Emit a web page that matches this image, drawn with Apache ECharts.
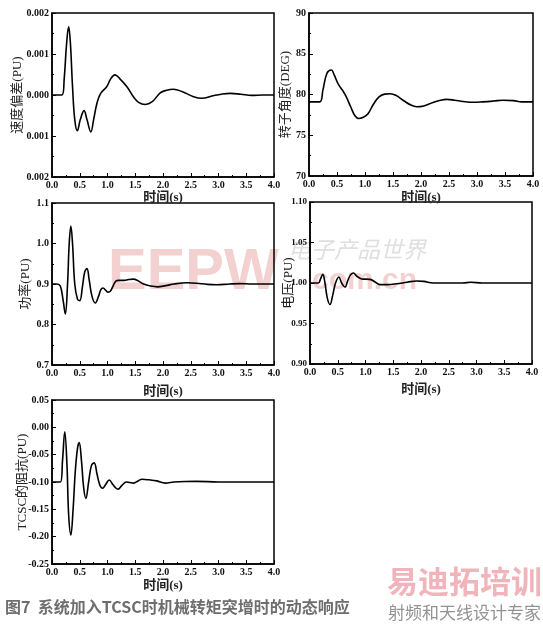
<!DOCTYPE html>
<html><head><meta charset="utf-8">
<script src="https://cdn.jsdelivr.net/npm/echarts@6/dist/echarts.min.js"></script>
<style>html,body{margin:0;padding:0;background:#fff}#c{width:543px;height:628px}</style>
</head><body><div id="c"></div>
<script>
// ---- data ----
const speedT = [0,0.18,0.22,0.26,0.30,0.33,0.37,0.41,0.456,0.51,0.577,0.63,0.70,0.75,0.81,0.877,0.985,1.06,1.135,1.22,1.35,1.47,1.56,1.68,1.8,1.95,2.05,2.19,2.35,2.55,2.70,2.9,3.05,3.21,3.4,3.6,3.8,4.0];
const speedV = [0,0,0.0004,0.0012,0.00167,0.0013,0.0002,-0.0006,-0.00087,-0.0006,-0.00038,-0.0006,-0.0009,-0.0006,-0.0002,0.00004,0.0002,0.0004,0.00049,0.0004,0.0002,-0.00005,-0.00018,-0.00023,-0.00017,0.00005,0.00011,0.00014,0.00008,-0.00004,-0.00008,-0.00002,0.00002,0.00004,0.00002,-0.00001,0,0];

const rotorT = [0,0.19,0.25,0.32,0.40,0.45,0.52,0.6,0.66,0.75,0.82,0.89,0.97,1.05,1.15,1.25,1.35,1.45,1.55,1.7,1.82,1.92,2.05,2.2,2.35,2.46,2.6,2.75,2.93,3.1,3.3,3.46,3.65,3.8,4.0];
const rotorV = [79.1,79.1,80.6,82.6,83.0,82.4,81.3,80.5,79.8,78.4,77.4,77.06,77.2,77.6,78.8,79.7,80.05,80.1,79.9,79.2,78.7,78.5,78.6,79.0,79.3,79.4,79.3,79.15,79.05,79.1,79.2,79.3,79.25,79.1,79.1];

const powerT = [0,0.09,0.15,0.2,0.24,0.28,0.31,0.34,0.37,0.41,0.46,0.50,0.55,0.59,0.63,0.67,0.72,0.78,0.84,0.88,0.92,0.97,1.01,1.05,1.1,1.15,1.2,1.3,1.38,1.47,1.55,1.65,1.78,1.9,2.05,2.2,2.43,2.6,2.8,2.97,3.2,3.39,3.6,3.8,4.0];
const powerV = [0.9,0.9,0.895,0.86,0.826,0.9,1.0,1.043,1.0,0.9,0.862,0.859,0.895,0.93,0.938,0.91,0.87,0.853,0.87,0.886,0.89,0.884,0.88,0.882,0.895,0.907,0.909,0.909,0.911,0.912,0.908,0.9,0.895,0.893,0.896,0.9,0.903,0.902,0.899,0.898,0.9,0.901,0.9,0.9,0.9];

const voltT = [0,0.15,0.19,0.23,0.27,0.31,0.36,0.41,0.46,0.52,0.57,0.63,0.68,0.73,0.78,0.85,0.93,1.08,1.18,1.26,1.4,1.56,1.75,1.92,2.05,2.22,2.5,2.75,2.9,3.1,3.5,4.0];
const voltV = [1.0,1.0,1.005,1.0107,1.0,0.982,0.9734,0.985,1.0,1.0075,1.0,0.995,1.003,1.01,1.0124,1.008,1.005,1.0045,1.001,0.998,0.998,0.999,1.001,1.0025,1.002,1.0,1.0,1.0,1.001,1.0,1.0,1.0];

const tcscT = [0,0.15,0.19,0.23,0.27,0.30,0.34,0.38,0.42,0.46,0.49,0.53,0.57,0.61,0.66,0.71,0.76,0.81,0.86,0.91,0.97,1.03,1.1,1.15,1.19,1.26,1.34,1.40,1.47,1.55,1.62,1.75,1.89,2.04,2.2,2.4,2.6,3.0,3.5,4.0];
const tcscV = [-0.1,-0.1,-0.06,-0.008,-0.07,-0.16,-0.197,-0.15,-0.08,-0.038,-0.028,-0.06,-0.11,-0.13,-0.1,-0.07,-0.065,-0.085,-0.105,-0.1115,-0.104,-0.0964,-0.105,-0.111,-0.113,-0.106,-0.1,-0.101,-0.102,-0.098,-0.095,-0.096,-0.098,-0.102,-0.1,-0.099,-0.0988,-0.1,-0.1,-0.1];

const xTicks = ['0.0','0.5','1.0','1.5','2.0','2.5','3.0','3.5','4.0'];
const yNames = ['速度偏差(PU)','转子角度(DEG)','功率(PU)','电压(PU)','TCSC的阻抗(PU)'];
const xName = '时间(s)';
const caption = '图7  系统加入TCSC时机械转矩突增时的动态响应';

// ---- layout ----
const grids = [
  {left:52, top:13, width:222, height:164},
  {left:309, top:13, width:224, height:163},
  {left:52, top:203, width:222, height:162},
  {left:310, top:202, width:222, height:162},
  {left:52, top:400, width:222, height:164}
];
const yNameGap = [28, 17, 20, 15, 23];
const xNameGap = [14, 15, 20, 19, 15];
const yLabelSize = [10, 10, 10, 9, 10];
const yCfg = [
  {min:-0.002,max:0.002,interval:0.001,fmt:v=>Math.abs(v).toFixed(3)},
  {min:70,max:90,interval:5,fmt:v=>String(Math.round(v))},
  {min:0.7,max:1.1,interval:0.1,fmt:v=>v.toFixed(1)},
  {min:0.9,max:1.1,interval:0.05,fmt:v=>v.toFixed(2)},
  {min:-0.25,max:0.05,interval:0.05,fmt:v=>(Math.abs(v)<1e-9?0:v).toFixed(2)}
];
const serif = 'Liberation Serif, "Times New Roman", serif';
const cjk = 'Liberation Serif, "Noto Sans CJK SC", serif';
const seriesData = [[speedT,speedV],[rotorT,rotorV],[powerT,powerV],[voltT,voltV],[tcscT,tcscV]];

const option = {
  animation:false,
  backgroundColor:'#fff',
  grid: grids.map(g=>Object.assign({show:true,borderColor:'#000',borderWidth:1.5,backgroundColor:'transparent'},g)),
  xAxis: grids.map((g,i)=>({
    type:'value', gridIndex:i, min:0, max:4, interval:0.5,
    name:xName, nameLocation:'middle', nameGap:xNameGap[i], nameMoveOverlap:false,
    nameTextStyle:{fontFamily:cjk,fontSize:13,fontWeight:'bold',color:'#222'},
    axisLine:{onZero:false,lineStyle:{color:'#000',width:1.5}},
    axisTick:{inside:true,length:4,lineStyle:{color:'#000'}},
    minorTick:{show:true,splitNumber:2,length:2,lineStyle:{color:'#000'}},
    splitLine:{show:false},
    axisLabel:{fontFamily:serif,fontWeight:'bold',fontSize:10,color:'#111',margin:3,
      formatter:v=>xTicks[Math.round(v/0.5)]}
  })),
  yAxis: grids.map((g,i)=>({
    type:'value', gridIndex:i, min:yCfg[i].min, max:yCfg[i].max, interval:yCfg[i].interval,
    name:yNames[i], nameLocation:'middle', nameRotate:90, nameGap:yNameGap[i], nameMoveOverlap:false,
    nameTextStyle:{fontFamily:cjk,fontSize:13,color:'#222'},
    axisLine:{onZero:false,lineStyle:{color:'#000',width:1.5}},
    axisTick:{inside:true,length:4,lineStyle:{color:'#000'}},
    minorTick:{show:true,splitNumber:2,length:2,lineStyle:{color:'#000'}},
    splitLine:{show:false},
    axisLabel:{fontFamily:serif,fontWeight:'bold',fontSize:yLabelSize[i],color:'#111',margin:3,
      formatter:yCfg[i].fmt}
  })),
  series: seriesData.map((d,i)=>({
    type:'line', xAxisIndex:i, yAxisIndex:i, showSymbol:false, smooth:0.4,
    lineStyle:{color:'#000',width:1.6},
    data:d[0].map((t,k)=>[t,d[1][k]])
  })),
  graphic:[
    {type:'text',left:5,top:599,z:10,style:{text:caption,font:'bold 16px "Noto Sans CJK SC"',fill:'#6e6e6e'}},
    {type:'text',left:108,top:244,z:-1,silent:true,style:{text:'EEPW',font:'bold 58px "Liberation Sans"',fill:'rgba(225,140,140,0.4)'}},
    {type:'text',left:288,top:238,z:-1,silent:true,style:{text:'电子产品世界',font:'italic 23px "Noto Sans CJK SC"',fill:'rgba(150,150,150,0.3)'}},
    {type:'text',left:312,top:266,z:-1,silent:true,style:{text:'com.cn',font:'bold 30px "Liberation Sans"',fill:'rgba(225,140,140,0.4)'}},
    {type:'text',left:387,top:566,z:-1,silent:true,style:{text:'易迪拓培训',font:'bold 31px "Noto Sans CJK SC"',fill:'rgba(230,130,140,0.6)'}},
    {type:'text',left:388,top:604,z:-1,silent:true,style:{text:'射频和天线设计专家',font:'17px "Noto Sans CJK SC"',fill:'rgba(110,110,110,0.75)'}}
  ]
};
echarts.init(document.getElementById('c')).setOption(option);
</script></body></html>
